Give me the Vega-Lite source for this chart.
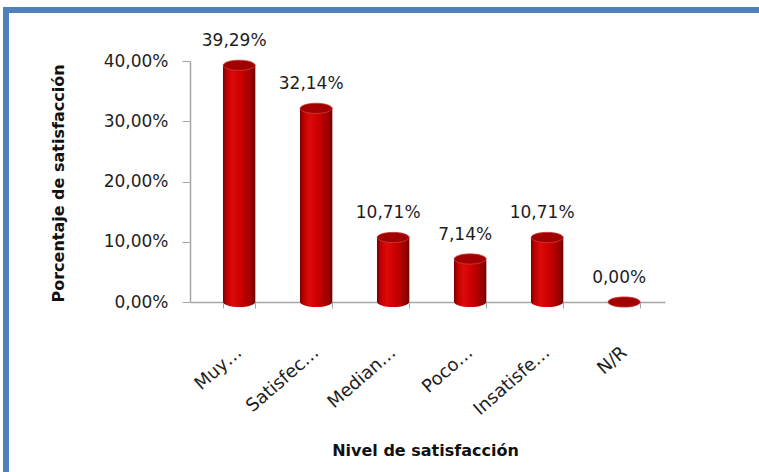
{
  "$schema": "https://vega.github.io/schema/vega-lite/v6.json",
  "width": 763,
  "height": 477,
  "autosize": {"type": "none"},
  "padding": {"left": 6, "top": 10, "right": -10, "bottom": -15},
  "background": "white",
  "config": {
    "locale": {"number": {"decimal": ",", "thousands": ".", "grouping": [3], "currency": ["", " €"]}},
    "view": {"stroke": "#4F81BD", "strokeWidth": 6, "fill": "white"},
    "font": "DejaVu Sans"
  },
  "data": {
    "values": [
      {"nivel": "Muy…", "pct": 0.3929},
      {"nivel": "Satisfec…", "pct": 0.3214},
      {"nivel": "Median…", "pct": 0.1071},
      {"nivel": "Poco…", "pct": 0.0714},
      {"nivel": "Insatisfe…", "pct": 0.1071},
      {"nivel": "N/R", "pct": 0.0}
    ]
  },
  "encoding": {
    "x": {
      "field": "nivel",
      "type": "nominal",
      "sort": null,
      "scale": {"range": [184, 659], "paddingInner": 0.58, "paddingOuter": 0.3745, "align": 0.572},
      "axis": {
        "title": "Nivel de satisfacción",
        "offset": -185,
        "labelAngle": -41,
        "labelAlign": "right",
        "labelBaseline": "middle",
        "labelPadding": 42,
        "labelFontSize": 18,
        "labelColor": "#1e1e1e",
        "labelOverlap": false,
        "tickBand": "extent",
        "tickSize": 6,
        "tickColor": "#a6a6a6",
        "domainColor": "#a6a6a6",
        "domainWidth": 1.5,
        "titleX": 419,
        "titleY": 148,
        "titleAlign": "center",
        "titleBaseline": "middle",
        "titleFontSize": 16,
        "titleFontWeight": "bold",
        "titleColor": "#111111"
      }
    },
    "y": {
      "field": "pct",
      "type": "quantitative",
      "scale": {"domain": [-0.30705, 0.48465], "nice": false, "zero": false},
      "axis": {
        "title": "Porcentaje de satisfacción",
        "values": [0, 0.1, 0.2, 0.3, 0.4],
        "format": ".2%",
        "offset": -184,
        "grid": false,
        "domainColor": "#a6a6a6",
        "domainWidth": 1.5,
        "domainDash": [0, 185, 241, 2000],
        "tickColor": "#a6a6a6",
        "tickSize": 8,
        "labelPadding": 14,
        "labelFontSize": 17,
        "labelColor": "#1e1e1e",
        "titleX": -132,
        "titleY": 173,
        "titleAngle": -90,
        "titleAlign": "center",
        "titleBaseline": "middle",
        "titleFontSize": 16,
        "titleFontWeight": "bold",
        "titleColor": "#111111"
      }
    }
  },
  "layer": [
    {
      "mark": {
        "type": "bar",
        "fill": {
          "gradient": "linear", "x1": 0, "x2": 1, "y1": 0, "y2": 0,
          "stops": [
            {"offset": 0, "color": "#7a0000"},
            {"offset": 0.12, "color": "#c00000"},
            {"offset": 0.3, "color": "#dd0a0a"},
            {"offset": 0.55, "color": "#cc0000"},
            {"offset": 0.85, "color": "#a00000"},
            {"offset": 1, "color": "#700000"}
          ]
        }
      },
      "encoding": {"y2": {"datum": 0}}
    },
    {
      "mark": {
        "type": "point",
        "filled": true,
        "opacity": 1,
        "size": 1024,
        "shape": "M-1,0A1,0.32,0,1,0,1,0A1,0.32,0,1,0,-1,0Z",
        "fill": {
          "gradient": "linear", "x1": 0, "x2": 1, "y1": 0, "y2": 0,
          "stops": [
            {"offset": 0, "color": "#7a0000"},
            {"offset": 0.12, "color": "#c00000"},
            {"offset": 0.3, "color": "#dd0a0a"},
            {"offset": 0.55, "color": "#cc0000"},
            {"offset": 0.85, "color": "#a00000"},
            {"offset": 1, "color": "#700000"}
          ]
        }
      },
      "encoding": {"y": {"datum": 0, "type": "quantitative"}}
    },
    {
      "mark": {
        "type": "point",
        "filled": true,
        "opacity": 1,
        "size": 1024,
        "shape": "M-1,0A1,0.32,0,1,0,1,0A1,0.32,0,1,0,-1,0Z",
        "fill": "#a20000",
        "stroke": "#c84040",
        "strokeWidth": 0.8
      }
    },
    {
      "mark": {"type": "text", "dy": -24, "dx": -5, "fontSize": 17, "color": "#1e1e1e", "baseline": "middle"},
      "encoding": {"text": {"field": "pct", "type": "quantitative", "format": ".2%"}}
    }
  ]
}
